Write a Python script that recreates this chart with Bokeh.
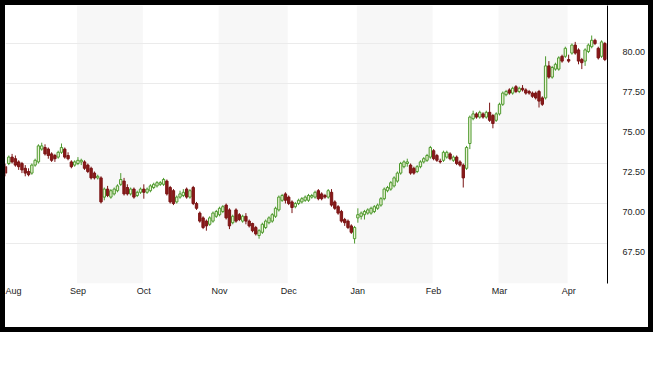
from bokeh.plotting import figure
from bokeh.layouts import column
from bokeh.models import (ColumnDataSource, FixedTicker, LinearAxis, Range1d,
                          Grid, BoxAnnotation)
from bokeh.embed import file_html
from bokeh.resources import INLINE

# ---------------- data ----------------
months = ["Aug", "Sep", "Oct", "Nov", "Dec", "Jan", "Feb", "Mar", "Apr"]
month_start = [0, 22, 42, 65, 86, 107, 130, 150, 171]
shaded_months = ["Sep", "Nov", "Jan", "Mar"]
price_ticks = [65.0, 67.5, 70.0, 72.5, 75.0, 77.5, 80.0]
label_ticks = [67.5, 70.0, 72.5, 75.0, 77.5, 80.0]
label_text = ["67.50", "70.00", "72.50", "75.00", "77.50", "80.00"]

open_ = [
    # Aug
    72.3, 72.5, 72.9, 72.8, 72.6, 72.5, 72.2, 72.0, 71.9, 72.4, 72.6, 73.4, 73.5, 73.4, 73.1, 73.0, 72.9, 73.2, 73.4, 73.0, 72.6, 72.4,
    # Sep
    72.5, 72.6, 72.6, 72.4, 72.2, 71.9, 71.6, 71.6, 70.4, 70.9, 70.4, 70.6, 70.8, 71.2, 71.4, 71.0, 70.6, 70.9, 70.5, 70.7,
    # Oct
    70.9, 70.7, 70.8, 71.0, 71.1, 71.2, 71.2, 71.4, 71.0, 70.8, 70.1, 70.4, 70.5, 70.9, 70.4, 71.0, 70.0, 69.4, 69.1, 68.9, 68.7, 68.9, 69.2,
    # Nov
    69.3, 69.5, 69.9, 69.6, 68.8, 69.6, 69.3, 68.9, 69.2, 68.9, 68.75, 68.5, 68.0, 68.2, 68.5, 68.8, 68.9, 69.2, 69.6, 70.2, 70.6,
    # Dec
    70.4, 70.1, 69.8, 70.0, 70.1, 70.2, 70.2, 70.4, 70.4, 70.8, 70.6, 70.5, 70.4, 70.7, 70.1, 69.8, 69.5, 69.0, 68.9, 68.6, 67.8,
    # Jan
    69.1, 69.2, 69.3, 69.4, 69.4, 69.5, 69.7, 69.9, 70.3, 70.8, 70.9, 71.1, 71.4, 71.9, 72.3, 72.5, 72.4, 72.2, 72.0, 72.3, 72.6, 72.7, 72.9,
    # Feb
    73.3, 73.0, 72.65, 72.7, 72.9, 73.1, 72.7, 72.9, 72.6, 72.4, 72.2, 73.75, 75.3, 75.6, 75.4, 75.6, 75.4, 75.7, 75.5, 75.2,
    # Mar
    75.6, 76.2, 76.8, 77.1, 76.9, 77.3, 77.0, 77.2, 77.1, 77.0, 76.9, 76.9, 77.0, 76.6, 76.6, 78.6, 77.9, 78.4, 78.4, 79.2, 79.2,
    # Apr
    79.0, 79.4, 79.9, 79.6, 79.0, 78.9, 79.5, 79.8, 80.2, 79.7, 79.2, 80.0,
]
high = [
    72.5, 73.0, 73.1, 73.0, 72.7, 72.6, 72.4, 72.2, 72.5, 72.8, 73.7, 73.8, 73.7, 73.5, 73.2, 73.1, 73.3, 73.75, 73.5, 73.2, 72.7, 72.7,
    72.9, 72.8, 72.7, 72.5, 72.3, 72.0, 71.8, 71.7, 71.0, 71.1, 70.9, 71.0, 71.2, 71.9, 71.6, 71.2, 71.0, 71.0, 70.8, 71.0,
    71.2, 71.0, 71.2, 71.3, 71.4, 71.4, 71.6, 71.5, 71.1, 70.9, 70.5, 70.8, 70.9, 71.0, 70.9, 71.1, 70.1, 69.5, 69.2, 69.0, 69.2, 69.5, 69.6,
    69.8, 69.9, 70.0, 69.7, 69.3, 69.7, 69.4, 69.3, 69.4, 69.0, 68.8, 68.6, 68.4, 68.8, 69.0, 69.2, 69.4, 69.8, 70.5, 70.6, 70.7,
    70.5, 70.2, 70.1, 70.3, 70.4, 70.5, 70.6, 70.6, 70.8, 70.9, 70.7, 70.6, 70.9, 70.9, 70.2, 69.9, 69.6, 69.1, 69.0, 68.7, 68.6,
    69.7, 69.5, 69.6, 69.7, 69.8, 69.9, 70.0, 70.4, 71.0, 71.1, 71.4, 71.7, 72.0, 72.6, 72.7, 72.8, 72.5, 72.3, 72.4, 72.7, 72.9, 73.1, 73.6,
    73.4, 73.1, 72.8, 73.3, 73.3, 73.2, 73.0, 73.0, 72.7, 72.5, 73.6, 75.5, 75.8, 75.7, 75.8, 75.7, 75.8, 76.3, 75.6, 75.7,
    76.3, 77.0, 77.1, 77.2, 77.3, 77.4, 77.3, 77.4, 77.2, 77.1, 77.0, 77.0, 77.1, 76.7, 79.2, 78.9, 78.6, 78.8, 79.2, 79.3, 79.8,
    79.3, 80.0, 80.1, 79.7, 79.1, 79.7, 80.0, 80.5, 80.3, 79.8, 80.2, 80.1,
]
low = [
    71.7, 72.4, 72.5, 72.3, 72.1, 71.9, 71.7, 71.7, 71.8, 72.3, 72.5, 73.3, 73.0, 72.8, 72.6, 72.6, 72.8, 73.1, 72.8, 72.7, 72.2, 72.3,
    72.4, 72.4, 72.1, 71.9, 71.5, 71.5, 71.5, 70.0, 70.2, 70.4, 70.3, 70.5, 70.7, 71.1, 70.5, 70.5, 70.5, 70.3, 70.4, 70.6,
    70.3, 70.6, 70.7, 70.9, 71.0, 71.1, 71.1, 70.5, 70.0, 69.9, 70.0, 70.3, 70.4, 70.3, 70.3, 69.9, 69.6, 68.8, 68.4, 68.3, 68.6, 68.8, 69.1,
    69.2, 69.4, 69.0, 68.4, 68.7, 68.8, 68.9, 68.8, 68.7, 68.5, 68.2, 68.0, 67.8, 68.1, 68.4, 68.7, 68.8, 69.1, 69.5, 70.1, 70.0,
    69.9, 69.4, 69.7, 69.9, 70.0, 70.1, 70.1, 70.3, 70.3, 70.2, 70.2, 70.3, 70.3, 69.8, 69.6, 69.3, 68.8, 68.6, 68.4, 68.1, 67.5,
    68.8, 69.0, 69.0, 69.3, 69.3, 69.4, 69.6, 69.8, 70.2, 70.7, 70.8, 71.0, 71.3, 71.8, 72.2, 72.3, 71.8, 71.8, 71.9, 72.2, 72.5, 72.6, 72.8,
    72.7, 72.6, 72.5, 72.6, 72.8, 72.7, 72.6, 72.4, 72.3, 71.0, 72.1, 73.4, 75.2, 75.3, 75.3, 75.3, 75.3, 75.1, 74.7, 75.1,
    75.5, 76.1, 76.7, 76.8, 76.8, 76.9, 76.9, 77.0, 76.8, 76.8, 76.6, 76.5, 76.0, 76.1, 76.5, 77.8, 77.8, 78.3, 78.3, 78.8, 79.1,
    78.8, 79.3, 79.3, 78.7, 78.4, 78.6, 79.4, 79.7, 79.9, 79.0, 79.1, 78.9,
]
close = [
    71.9, 72.9, 72.6, 72.4, 72.3, 72.1, 71.9, 71.8, 72.4, 72.7, 73.6, 73.6, 73.1, 73.0, 72.7, 72.8, 73.2, 73.5, 72.9, 72.8, 72.3, 72.6,
    72.7, 72.7, 72.2, 72.0, 71.6, 71.6, 71.7, 70.1, 70.9, 70.5, 70.8, 70.9, 71.1, 71.5, 70.6, 70.6, 70.9, 70.4, 70.7, 70.9,
    70.7, 70.9, 71.1, 71.2, 71.3, 71.3, 71.5, 70.6, 70.1, 70.0, 70.4, 70.6, 70.7, 70.4, 70.8, 70.0, 69.7, 68.9, 68.5, 68.6, 69.1, 69.4, 69.5,
    69.7, 69.8, 69.1, 68.6, 69.2, 68.9, 69.0, 69.2, 68.9, 68.6, 68.3, 68.1, 68.3, 68.7, 68.9, 69.1, 69.3, 69.7, 70.4, 70.5, 70.2,
    70.0, 69.75, 70.0, 70.2, 70.3, 70.4, 70.5, 70.5, 70.7, 70.3, 70.3, 70.4, 70.8, 69.9, 69.7, 69.4, 68.9, 68.8, 68.5, 68.2, 68.5,
    69.3, 69.4, 69.5, 69.6, 69.7, 69.8, 69.9, 70.3, 70.9, 71.0, 71.3, 71.6, 71.9, 72.5, 72.6, 72.6, 71.9, 71.9, 72.3, 72.6, 72.8, 73.0, 73.5,
    72.8, 72.7, 72.6, 73.2, 73.2, 72.8, 72.9, 72.5, 72.4, 71.6, 73.5, 75.4, 75.6, 75.4, 75.7, 75.4, 75.7, 75.2, 75.0, 75.6,
    76.2, 76.9, 77.0, 76.9, 77.2, 77.0, 77.2, 77.1, 76.9, 76.9, 76.7, 76.6, 76.4, 76.2, 78.6, 77.9, 78.5, 78.7, 79.1, 78.9, 79.7,
    78.9, 79.9, 79.4, 78.9, 78.8, 79.6, 79.9, 80.2, 80.0, 79.1, 80.1, 79.0,
]

# ---------------- sources ----------------
idx = list(range(len(close)))
up = [c >= o for o, c in zip(open_, close)]

def subset(flag):
    sel = [i for i in idx if up[i] == flag]
    return ColumnDataSource(dict(
        x=sel,
        open=[open_[i] for i in sel],
        close=[close[i] for i in sel],
        high=[high[i] for i in sel],
        low=[low[i] for i in sel],
    ))

src_up = subset(True)
src_dn = subset(False)

Y0, Y1 = 65.0, 82.375
p = figure(width=643, height=322, x_range=Range1d(0, 182.8), y_range=Range1d(Y0, Y1),
           x_axis_location=None, y_axis_location=None,
           toolbar_location=None, output_backend="svg",
           min_border_left=0, min_border_top=0, min_border_right=41, min_border_bottom=44,
           background_fill_color="white", border_fill_color="white")
p.outline_line_color = None

# remove default grids if any
p.center = [r for r in p.center if not isinstance(r, Grid)]

# shaded month bands
bounds = month_start + [len(close)]
for m, s, e in zip(months, bounds[:-1], bounds[1:]):
    if m in shaded_months:
        p.add_layout(BoxAnnotation(left=s - 0.3, right=e - 0.3, fill_color="#f7f7f7",
                                   fill_alpha=1, line_color=None, level="image"))

p.add_layout(Grid(dimension=1, ticker=FixedTicker(ticks=price_ticks),
                  grid_line_color="#ebebeb", grid_line_width=1))

# candles
p.segment(x0="x", y0="low", x1="x", y1="high", source=src_up, line_color="#4e9a2e", line_width=1)
p.segment(x0="x", y0="low", x1="x", y1="high", source=src_dn, line_color="#7a1414", line_width=1)
p.vbar(x="x", width=0.72, top="close", bottom="open", source=src_up,
       fill_color="#eef3d8", line_color="#4e9a2e", line_width=1)
p.vbar(x="x", width=0.72, top="open", bottom="close", source=src_dn,
       fill_color="#8a1a1a", line_color="#7a1414", line_width=1)

# bottom month axis
xaxis = LinearAxis(ticker=FixedTicker(ticks=month_start),
                   major_label_overrides={s: m for s, m in zip(month_start, months)})
xaxis.axis_line_color = None
xaxis.major_tick_line_color = None
xaxis.minor_tick_line_color = None
xaxis.major_tick_out = 0
xaxis.major_tick_in = 0
xaxis.major_label_standoff = 2
xaxis.major_label_text_align = "left"
xaxis.major_label_text_font = "Liberation Sans"
xaxis.major_label_text_font_size = "9px"
xaxis.major_label_text_color = "#222222"
p.add_layout(xaxis, "below")

# right price axis (labels sit just below their grid line)
shift = 0.56
p.extra_y_ranges = {"lbl": Range1d(Y0 + shift, Y1 + shift)}
yaxis = LinearAxis(y_range_name="lbl", ticker=FixedTicker(ticks=label_ticks),
                   major_label_overrides={t: s for t, s in zip(label_ticks, label_text)})
yaxis.axis_line_color = "black"
yaxis.axis_line_width = 1
yaxis.major_tick_line_color = None
yaxis.minor_tick_line_color = None
yaxis.major_tick_out = 0
yaxis.major_tick_in = 0
yaxis.major_label_standoff = 15
yaxis.major_label_text_font = "Liberation Sans"
yaxis.major_label_text_font_size = "9px"
yaxis.major_label_text_color = "#222222"
p.add_layout(yaxis, "right")

# thick black frame around the whole chart
layout = column(p, styles={"border": "5px solid black", "box-sizing": "content-box",
                           "padding": "0px"})

open("out.html", "w").write(file_html(layout, INLINE))
